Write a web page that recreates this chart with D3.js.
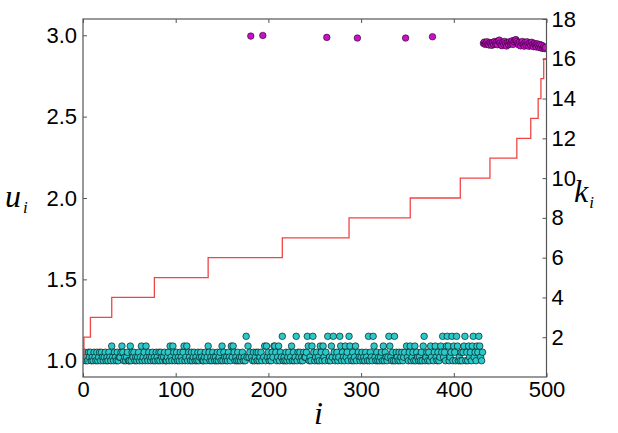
<!DOCTYPE html>
<html>
<head>
<meta charset="utf-8">
<script src="https://cdn.jsdelivr.net/npm/d3@7"></script>
<style>
  body { margin: 0; background: #fff; }
  svg { display: block; }
  .tick text { font-family: "Liberation Sans", Arial, sans-serif; font-size: 22px; fill: #000; }
  .tick line { stroke: #555; }
  .lbl { font-family: "Liberation Serif", "Times New Roman", serif; font-style: italic; fill: #000; }
</style>
</head>
<body>
<svg id="chart"></svg>
<script>
// u_i levels seen in the cyan band (left axis)
const uLevels = [1.0, 1.022, 1.052, 1.09, 1.15];
// one code per iteration i = 0..431 (level index, x = no cyan point there)
const uCodes =
  "0120102120" + "1021020120" + "2101201021" + "0310210201" + "1232010120" +
  "0302120101" + "2013012031" + "0210120102" + "1020210120" + "0120310320" +
  "1201021023" + "0130210201" + "2010201210" + "0120132010" + "2101020120" +
  "3021010210" + "3132010201" + "0120104131" + "2x10201202" + "0120x13031" +
  "2010213320" + "1302140102" + "0120130201" + "4021201021" + "1243010342" +
  "0120103203" + "102x401031" + "4201201430" + "2103120431" + "020130x210" +
  "1201021040" + "2104310201" + "0120302101" + "4310204021" + "02012012x3" +
  "1023012030" + "2101020340" + "1202031x02" + "3102013241" + "2034301240" +
  "3204301020" + "2340203120" + "341203243102";

// isolated magenta points near u = 3
const outlierI = [181, 194, 263, 296, 348, 377];
const outlierU = [2.995, 2.999, 2.987, 2.983, 2.983, 2.991];

// dense magenta cluster, i = 432..499
const clusterStart = 432;
const clusterU = [
  2.950, 2.958, 2.944, 2.952, 2.960, 2.946, 2.940, 2.955, 2.949, 2.938,
  2.956, 2.944, 2.962, 2.948, 2.958, 2.942, 2.965, 2.970, 2.952, 2.940,
  2.936, 2.958, 2.945, 2.962, 2.950, 2.934, 2.955, 2.943, 2.960, 2.946,
  2.956, 2.966, 2.944, 2.960, 2.970, 2.973, 2.962, 2.950, 2.941, 2.957,
  2.935, 2.953, 2.962, 2.944, 2.933, 2.956, 2.940, 2.960, 2.945, 2.932,
  2.952, 2.938, 2.957, 2.943, 2.930, 2.950, 2.940, 2.928, 2.947, 2.936,
  2.926, 2.943, 2.922, 2.938, 2.920, 2.930, 2.918, 2.925
];

// k_i step function (right axis): iteration where each new k starts
const stepI = [0, 1, 8, 31, 77, 135, 215, 287, 353, 407, 439, 468, 483, 491, 494, 497, 500];
const stepK = [1, 2, 3, 4, 5, 6, 7, 8, 9, 10, 11, 12, 13, 14, 15, 16, 16];

const xTicks = [0, 100, 200, 300, 400, 500];
const uTicks = [1.0, 1.5, 2.0, 2.5, 3.0];
const kTicks = [2, 4, 6, 8, 10, 12, 14, 16, 18];

const width = 618, height = 433;
const margin = { top: 19, right: 71.5, bottom: 56, left: 83 };

const svg = d3.select('#chart')
  .attr('width', width)
  .attr('height', height);

const x = d3.scaleLinear().domain([0, 500]).range([margin.left, width - margin.right]);
const yU = d3.scaleLinear().domain([0.9, 3.1]).range([height - margin.bottom, margin.top]);
const yK = d3.scaleLinear().domain([0, 18]).range([height - margin.bottom, margin.top]);

const cyan = [];
uCodes.split('').forEach((c, i) => {
  if (c !== 'x') cyan.push({ i, u: uLevels[+c] });
});
const magenta = outlierI.map((i, j) => ({ i, u: outlierU[j] }))
  .concat(clusterU.map((u, j) => ({ i: clusterStart + j, u })));
const steps = stepI.map((i, j) => ({ i, k: stepK[j] }));

svg.append('defs').append('clipPath').attr('id', 'clip')
  .append('rect')
  .attr('x', margin.left).attr('y', margin.top)
  .attr('width', width - margin.left - margin.right)
  .attr('height', height - margin.top - margin.bottom);

const plot = svg.append('g').attr('clip-path', 'url(#clip)');

plot.append('g').selectAll('circle')
  .data(cyan)
  .enter().append('circle')
  .attr('cx', d => x(d.i))
  .attr('cy', d => yU(d.u))
  .attr('r', 3.3)
  .attr('fill', '#2ac8c8')
  .attr('stroke', '#000')
  .attr('stroke-width', 0.6);

plot.append('g').selectAll('circle')
  .data(magenta)
  .enter().append('circle')
  .attr('cx', d => x(d.i))
  .attr('cy', d => yU(d.u))
  .attr('r', 3.3)
  .attr('fill', '#c810c8')
  .attr('stroke', '#000')
  .attr('stroke-width', 0.5);

const line = d3.line()
  .x(d => x(d.i))
  .y(d => yK(d.k))
  .curve(d3.curveStepAfter);

plot.append('path')
  .datum(steps)
  .attr('d', line)
  .attr('fill', 'none')
  .attr('stroke', '#f04545')
  .attr('stroke-width', 1.3);

// axes, ticks pointing inward like the original
svg.append('g')
  .attr('transform', `translate(0,${height - margin.bottom})`)
  .call(d3.axisBottom(x).tickValues(xTicks).tickSize(-4).tickSizeOuter(0).tickPadding(4));

svg.append('g')
  .attr('transform', `translate(0,${margin.top})`)
  .call(d3.axisTop(x).tickValues(xTicks).tickSize(-4).tickSizeOuter(0).tickFormat(''));

svg.append('g')
  .attr('transform', `translate(${margin.left},0)`)
  .call(d3.axisLeft(yU).tickValues(uTicks).tickFormat(d3.format('.1f')).tickSize(-4).tickSizeOuter(0).tickPadding(6));

svg.append('g')
  .attr('transform', `translate(${width - margin.right},0)`)
  .call(d3.axisRight(yK).tickValues(kTicks).tickSize(-4).tickSizeOuter(0).tickPadding(5));

svg.selectAll('.domain').remove();

svg.append('rect')
  .attr('x', margin.left).attr('y', margin.top)
  .attr('width', width - margin.left - margin.right)
  .attr('height', height - margin.top - margin.bottom)
  .attr('fill', 'none')
  .attr('stroke', '#555')
  .attr('stroke-width', 1.2);

// axis labels
const uLab = svg.append('text').attr('class', 'lbl').attr('x', 5).attr('y', 207).attr('font-size', 32);
uLab.append('tspan').text('u');
uLab.append('tspan').attr('font-size', 17).attr('dy', 6).attr('dx', 2).text('i');

const kLab = svg.append('text').attr('class', 'lbl').attr('x', 574).attr('y', 202).attr('font-size', 32);
kLab.append('tspan').text('k');
kLab.append('tspan').attr('font-size', 17).attr('dy', 6).attr('dx', 1).text('i');

svg.append('text').attr('class', 'lbl')
  .attr('x', 314).attr('y', 424).attr('font-size', 32)
  .text('i');
</script>
</body>
</html>
